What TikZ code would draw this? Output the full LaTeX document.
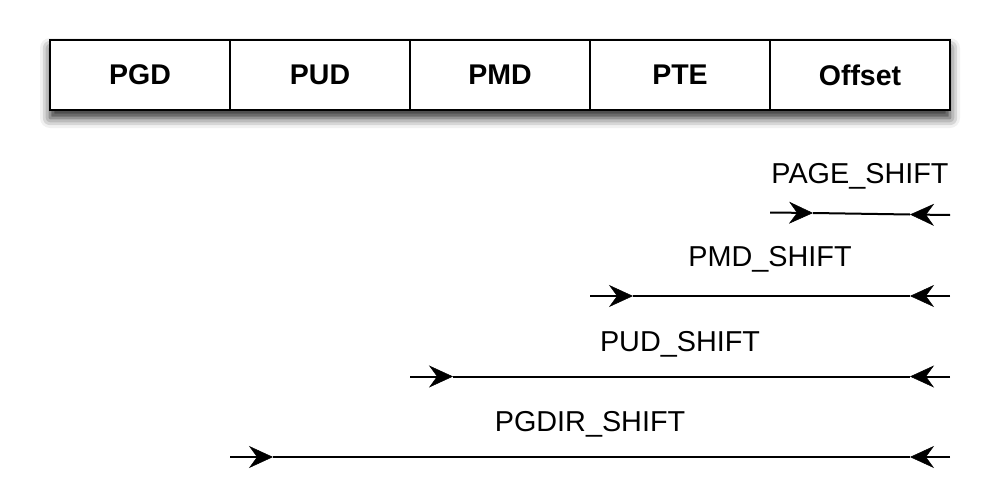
\documentclass[tikz,border=0pt]{standalone}
\usepackage{fontspec}
\setmainfont{Liberation Sans}
\usetikzlibrary{arrows.meta,shadows.blur}
\begin{document}
\begin{tikzpicture}[x=1pt,y=-1pt,
  cell/.style={draw,line width=2.2pt,minimum width=180pt,minimum height=70pt,inner sep=0pt,
    font=\fontsize{28.5}{30}\selectfont\bfseries},
  lbl/.style={anchor=base,inner sep=0pt,font=\fontsize{28.8}{30}\selectfont},
  dim/.style={line width=2pt,draw=black},
  tipped/.style={dim,-{Stealth[length=24pt,width=22pt,inset=8pt,fill=black,line width=0.5pt]}}]
\useasboundingbox (0,0) rectangle (1000,487);
% shadowed background of the bar
\fill[white,blur shadow={shadow xshift=0pt,shadow yshift=-8pt,shadow blur radius=10pt,shadow opacity=85}]
  (50,40) rectangle (950,110);
% cells
\node[cell] (pgd) at (140,75) {PGD};
\node[cell] (pud) at (320,75) {PUD};
\node[cell] (pmd) at (500,75) {PMD};
\node[cell] (pte) at (680,75) {PTE};
\node[cell] (off) at (860,75) {Offset};
% labels
\node[lbl] (lpage) at (860,183) {PAGE\_SHIFT};
\node[lbl] (lpmd) at (770,266) {PMD\_SHIFT};
\node[lbl] (lpud) at (680,351) {PUD\_SHIFT};
\node[lbl] (lpgd) at (590,431) {PGDIR\_SHIFT};
% coordinates of the dimension lines
\coordinate (a1) at (770,212.5); \coordinate (a2) at (813,213);
\coordinate (a3) at (910,214.5); \coordinate (a4) at (950,215);
\coordinate (b1) at (590,296); \coordinate (b2) at (633,296);
\coordinate (b3) at (910,296); \coordinate (b4) at (950,296);
\coordinate (c1) at (410,376.5); \coordinate (c2) at (453,376.5);
\coordinate (c3) at (910,376.5); \coordinate (c4) at (950,376.5);
\coordinate (d1) at (230,457); \coordinate (d2) at (273,457);
\coordinate (d3) at (910,457); \coordinate (d4) at (950,457);
% dimension lines
\foreach \p in {a,b,c,d}{
  \draw[tipped] (\p1) -- (\p2);
  \draw[dim] (\p2) -- (\p3);
  \draw[tipped] (\p4) -- (\p3);
}
\end{tikzpicture}
\end{document}
